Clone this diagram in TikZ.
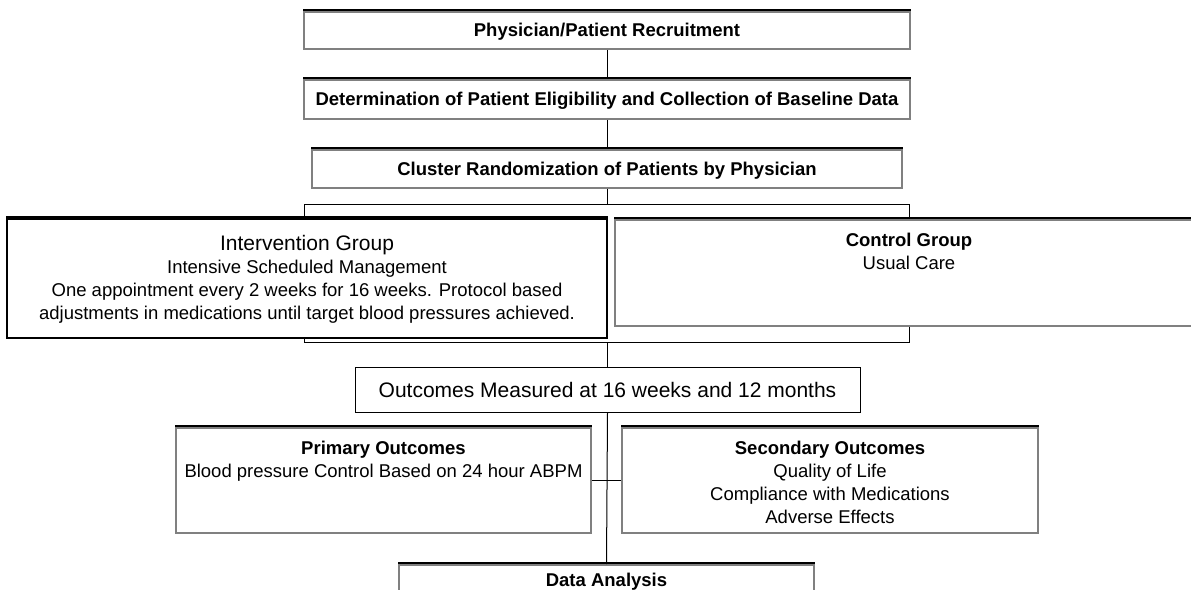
\documentclass[tikz,border=0pt]{standalone}
\usepackage{fontspec}
\setmainfont{Liberation Sans}
\definecolor{boxgray}{HTML}{808080}
\begin{document}
\begin{tikzpicture}[x=1pt,y=-1pt,
  box/.style={draw=boxgray, line width=1.6pt, fill=white, inner sep=0pt,
    preaction={draw=black, line width=1.6pt, transform canvas={yshift=1pt}},
    preaction={draw=black, line width=1.6pt, transform canvas={yshift=2pt}}},
  blackbox/.style={box, draw=black},
  plainbox/.style={draw=black, line width=1pt, fill=white, inner sep=0pt},
  conn/.style={draw=black, line width=1pt},
  txt/.style={inner sep=0pt, align=center, font=\fontsize{18.5}{23}\selectfont},
  txtb/.style={txt, font=\fontsize{18.5}{23}\selectfont\bfseries},
  big/.style={font=\fontsize{21}{25}\selectfont}
]
\useasboundingbox (0,0) rectangle (1191,589);
\clip (0,0) rectangle (1191,589);

% connector coordinates
\coordinate (bl) at (304,204);
\coordinate (br) at (909,342);
\coordinate (bm) at (607,342);

% boxes
\node[box, minimum width=606pt, minimum height=37pt] (rec) at (607,30.5) {};
\node[txtb] (rect) at ([yshift=-1.5pt]rec.center) {Physician/Patient Recruitment};
\node[box, minimum width=606pt, minimum height=39pt] (elig) at (607,99.5) {};
\node[txtb] (eligt) at ([yshift=-1.5pt]elig.center) {Determination of Patient Eligibility and Collection of Baseline Data};
\node[box, minimum width=590pt, minimum height=38pt] (clus) at (607,169) {};
\node[txtb] (clust) at ([yshift=-1.5pt]clus.center) {Cluster Randomization of Patients by Physician};

\draw[conn] (rec.south) -- (elig.north);
\draw[conn] (elig.south) -- (clus.north);
\draw[conn] (clus.south) -- (clus.south |- bl);
\draw[conn] (bl) rectangle (br);
\draw[conn] (bm) -- (607,367);

\node[blackbox, minimum width=600pt, minimum height=119pt] (interv) at (307,278.5) {};
\node[txt, anchor=north] (intervt) at ([yshift=-17pt]interv.north) {{\fontsize{21}{25}\selectfont Intervention Group}\\Intensive Scheduled Management\\One appointment every 2 weeks for 16 weeks. Protocol based\\adjustments in medications until target blood pressures achieved.};

\node[box, minimum width=588pt, minimum height=106pt] (ctrl) at (909,273) {};
\node[txt, anchor=north] (ctrlt) at ([yshift=-14pt]ctrl.north) {\textbf{Control Group}\\Usual Care};

\node[plainbox, minimum width=505pt, minimum height=45pt, big] (out) at (607.5,389.5) {Outcomes Measured at 16 weeks and 12 months};

\node[box, minimum width=415pt, minimum height=105pt] (prim) at (383.5,480.5) {};
\node[txt, anchor=north] (primt) at ([yshift=-14pt]prim.north) {\textbf{Primary Outcomes}\\Blood pressure Control Based on 24 hour ABPM};

\node[box, minimum width=416pt, minimum height=105pt] (sec) at (830,480.5) {};
\node[txt, anchor=north] (sect) at ([yshift=-14pt]sec.north) {\textbf{Secondary Outcomes}\\Quality of Life\\Compliance with Medications\\Adverse Effects};

\node[box, minimum width=415pt, minimum height=40pt] (data) at (606.5,585) {};
\node[txtb, anchor=north] (datat) at ([yshift=-9pt]data.north) {Data Analysis};

\draw[conn] (prim.east) -- (sec.west);
\draw[conn] (out.south) -- (data.north);
\end{tikzpicture}
\end{document}
